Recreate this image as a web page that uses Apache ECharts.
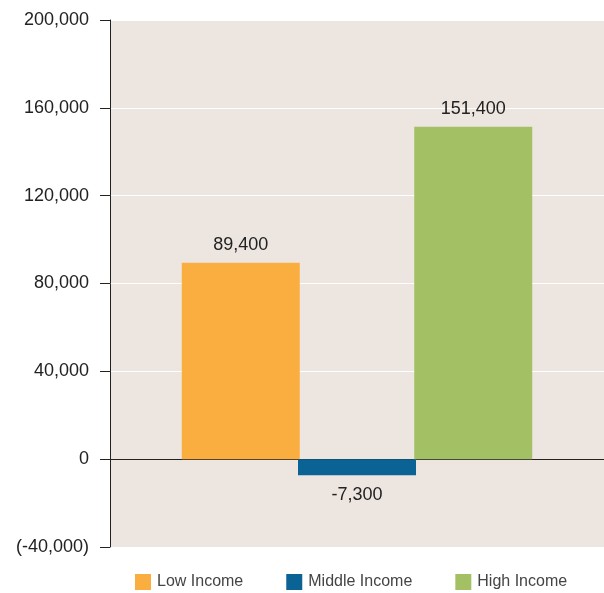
<!DOCTYPE html>
<html>
<head>
<meta charset="utf-8">
<script src="https://cdn.jsdelivr.net/npm/echarts@6/dist/echarts.min.js"></script>
<style>
html,body{margin:0;padding:0;background:#fff;}
#chart{width:604px;height:593px;}
</style>
</head>
<body>
<div id="chart"></div>
<script>
var groups = ['Low Income', 'Middle Income', 'High Income'];
var values = [89400, -7300, 151400];
var colors = ['#fbae40', '#0b6294', '#a3c164'];
var yTicks = [-40000, 0, 40000, 80000, 120000, 160000, 200000];

function fmt(v){
    var s = Math.abs(v).toString().replace(/\B(?=(\d{3})+(?!\d))/g, ',');
    return v < 0 ? '-' + s : s;
}

var series = groups.map(function(name, i){
    return {
        name: name,
        type: 'bar',
        barWidth: 118,
        barGap: '-1.5%',
        data: [values[i]],
        itemStyle: {color: colors[i]},
        label: {
            show: true,
            position: values[i] < 0 ? 'bottom' : 'top',
            distance: values[i] < 0 ? 11 : 9,
            color: '#222',
            fontSize: 18,
            fontFamily: 'Liberation Sans, Arial, sans-serif',
            formatter: function(p){ return fmt(p.value); }
        }
    };
});

var chart = echarts.init(document.getElementById('chart'));
chart.setOption({
    animation: false,
    grid: {
        left: 110, right: 0, top: 20, bottom: 46,
        show: true, backgroundColor: '#ede6e0', borderWidth: 0
    },
    legend: {
        data: groups,
        bottom: -2,
        left: 130,
        itemWidth: 16,
        itemHeight: 16,
        itemGap: 43,
        icon: 'rect',
        textStyle: {
            color: '#444', fontSize: 16, padding: [0, 0, 0, 1],
            fontFamily: 'Liberation Sans Narrow, Arial Narrow, Liberation Sans, sans-serif'
        }
    },
    xAxis: {
        type: 'category',
        data: [''],
        axisLine: {show: true, onZero: true, lineStyle: {color: '#222', width: 1}},
        axisTick: {show: false},
        axisLabel: {show: false}
    },
    yAxis: {
        type: 'value',
        min: yTicks[0],
        max: yTicks[yTicks.length - 1],
        interval: 40000,
        axisLine: {show: true, lineStyle: {color: '#222', width: 1}},
        axisTick: {show: true, length: 10, lineStyle: {color: '#222'}},
        splitLine: {show: true, lineStyle: {color: '#ffffff', width: 1}},
        axisLabel: {
            margin: 21,
            color: '#222',
            fontSize: 18,
            fontFamily: 'Liberation Sans, Arial, sans-serif',
            formatter: function(v){
                return v < 0 ? '(' + fmt(v) + ')' : fmt(v);
            }
        }
    },
    series: series
});
</script>
</body>
</html>
